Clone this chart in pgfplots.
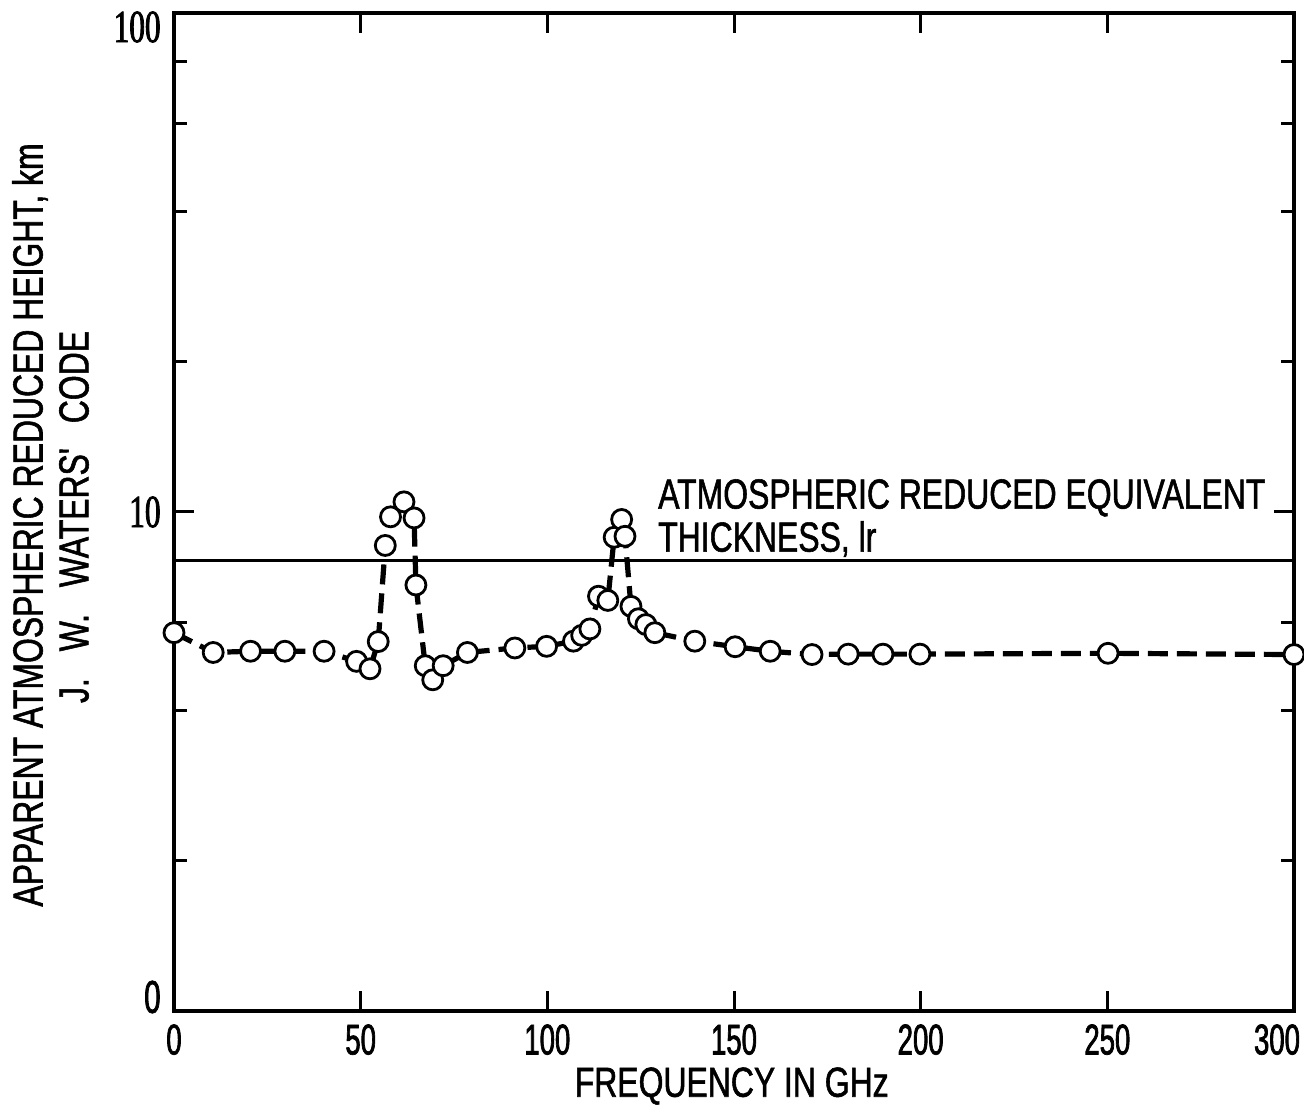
\documentclass[border=0pt]{standalone}
\usepackage{pgfplots}
\pgfplotsset{compat=1.18}
\usepackage{pgfplotstable}
\usepackage{fontspec}
\setmainfont{Liberation Sans}
% condensed lettering for labels and numbers
\newfontfamily\lettering[FakeStretch=0.76, FakeBold=1.3]{Liberation Sans}
\newfontfamily\digits[FakeStretch=0.64, FakeBold=1.6]{Liberation Sans}
\newfontfamily\serifdigits[FakeStretch=0.68, FakeBold=1.8]{Liberation Serif}

% apparent reduced height (km) against frequency (GHz)
\pgfplotstableread{
freq h
0     5.73
10.5  5.23
20.5  5.26
29.7  5.26
40.2  5.26
48.9  5.02
52.5  4.85
54.7  5.50
56.6  8.57
58.0  9.78
61.6  10.48
64.3  9.73
64.8  7.14
67.3  4.92
69.3  4.61
72.1  4.92
78.6  5.23
91.3  5.34
99.8  5.38
107.0 5.51
109.2 5.66
111.4 5.83
113.7 6.78
116.2 6.65
117.9 8.90
119.9 9.66
120.8 8.94
122.4 6.47
124.4 6.11
126.4 5.95
128.8 5.73
139.5 5.51
150.3 5.37
159.7 5.26
170.9 5.18
180.6 5.19
189.9 5.19
199.8 5.19
250.2 5.21
300   5.18
}\heightdata

\begin{document}
\begin{tikzpicture}
\begin{axis}[
  scale only axis,
  width=560pt, height=499pt,
  xmin=0, xmax=300,
  ymode=log, ymin=1, ymax=100,
  clip=false,
  axis line style={line width=2pt},
  tick align=inside,
  tick style={line width=1.5pt, black},
  major tick length=10pt, minor tick length=6.5pt,
  xtick={0,50,100,150,200,250,300},
  xticklabels={0,50,100,150,200,250,{\makebox[0pt]{\hspace*{-17pt}300}}},
  xticklabel style={font=\digits\fontsize{21.5pt}{22pt}\selectfont, inner sep=0pt, yshift=-6.5pt},
  ytick={1,10,100},
  yticklabels={{\raisebox{7pt}[\height][\depth]{\digits 0}},{\serifdigits 10},{\raisebox{-7pt}[\height][\depth]{\serifdigits 100}}},
  minor ytick={2,4,6,8,20,40,60,80},
  yticklabel style={font=\fontsize{23pt}{24pt}\selectfont, inner sep=0pt, xshift=-6.5pt},
]
% reference level: atmospheric reduced equivalent thickness
\addplot[black, line width=1.4pt, forget plot] coordinates {(0,8) (300,8)};

\addplot[black, line width=2.6pt, dash pattern=on 10pt off 4.5pt,
  mark=*, mark size=5pt,
  mark options={solid, fill=white, draw=black, line width=1.4pt}]
  table[x=freq, y=h] {\heightdata};

\node[anchor=base west, inner sep=0pt, font=\lettering\fontsize{21pt}{22pt}\selectfont]
  at (axis cs:129.6,10.16) {ATMOSPHERIC REDUCED EQUIVALENT};
\node[anchor=base west, inner sep=0pt, font=\lettering\fontsize{21pt}{22pt}\selectfont]
  at (axis cs:129.6,8.33) {THICKNESS, lr};

\node[rotate=90, inner sep=0pt, font=\lettering\fontsize{21pt}{22pt}\selectfont]
  at (axis description cs:-0.1286,0.487) {APPARENT ATMOSPHERIC REDUCED HEIGHT, km};
\node[rotate=90, inner sep=0pt, font=\lettering\fontsize{21pt}{22pt}\selectfont]
  at (axis description cs:-0.0893,0.495) {J.\hspace{9pt} W.\hspace{9pt} WATERS'\hspace{8pt} CODE};
\node[inner sep=0pt, font=\lettering\fontsize{21pt}{22pt}\selectfont]
  at (axis description cs:0.498,-0.0752) {FREQUENCY IN GHz};
\end{axis}
\pgfresetboundingbox
\path ([shift={(-87pt,-51pt)}]current axis.south west) rectangle ([shift={(5pt,6.5pt)}]current axis.north east);
\end{tikzpicture}
\end{document}
